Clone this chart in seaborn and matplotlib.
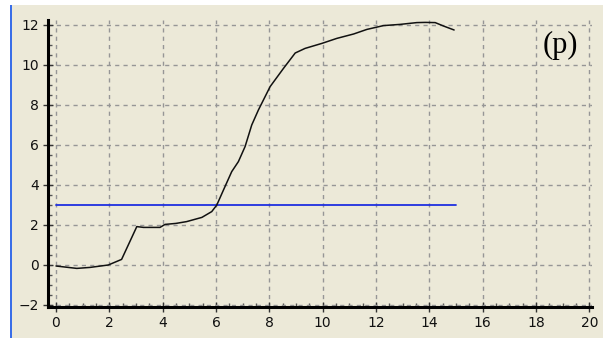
import matplotlib
matplotlib.use("Agg")
import matplotlib.pyplot as plt
import seaborn as sns
import pandas as pd
from matplotlib.patches import Rectangle
from matplotlib.ticker import MultipleLocator

sns.set_style("white")
plt.rcParams['font.family'] = ['DejaVu Sans']

curve_x = [0.0, 0.78, 1.28, 1.96, 2.46, 3.03, 3.28, 3.9, 4.09, 4.5, 4.9, 5.47, 5.84,
           6.03, 6.28, 6.59, 6.84, 7.09, 7.34, 7.59, 8.03, 8.53, 8.97, 9.34, 9.97,
           10.53, 11.16, 11.66, 12.28, 12.9, 13.53, 13.85, 14.22, 14.53, 14.93]
curve_y = [-0.05, -0.17, -0.12, 0.0, 0.28, 1.92, 1.88, 1.88, 2.03, 2.08, 2.17, 2.38, 2.67,
           3.0, 3.75, 4.67, 5.17, 5.92, 7.0, 7.75, 8.92, 9.83, 10.6, 10.83, 11.08,
           11.33, 11.55, 11.78, 11.97, 12.03, 12.12, 12.13, 12.12, 11.95, 11.75]
thresh_x = [0, 15]
thresh_y = [3, 3]
x_ticks = [0, 2, 4, 6, 8, 10, 12, 14, 16, 18, 20]
y_ticks = [-2, 0, 2, 4, 6, 8, 10, 12]
label = "(p)"

bg = "#ECE9D8"
fig = plt.figure(figsize=(6.03, 3.38), dpi=100, facecolor=bg)
# window decoration: white strip top, white left margin with blue edge
fig.patches.append(Rectangle((0, 1 - 5/338), 1, 5/338, transform=fig.transFigure,
                             facecolor="white", edgecolor="none", zorder=0))
fig.patches.append(Rectangle((0, 0), 10/603, 1, transform=fig.transFigure,
                             facecolor="white", edgecolor="none", zorder=0))
fig.patches.append(Rectangle((10/603, 0), 2/603, 1 - 5/338, transform=fig.transFigure,
                             facecolor="#3A6EE8", edgecolor="none", zorder=0))

ax = fig.add_axes([48/603, 31/338, (592-48)/603, (307-20)/338])
ax.set_facecolor(bg)

df_c = pd.DataFrame({"x": curve_x, "y": curve_y})
df_t = pd.DataFrame({"x": thresh_x, "y": thresh_y})
sns.lineplot(data=df_t, x="x", y="y", ax=ax, color="#1F2FE0", linewidth=1.3, sort=False)
sns.lineplot(data=df_c, x="x", y="y", ax=ax, color="#111111", linewidth=1.1, sort=False)

ax.set_xlim(-0.3, 20.1)
ax.set_ylim(-2.1, 12.25)
ax.set_xticks(x_ticks)
ax.set_yticks(y_ticks)
ax.xaxis.set_minor_locator(MultipleLocator(0.5))
ax.yaxis.set_minor_locator(MultipleLocator(0.5))
ax.set_xlabel("")
ax.set_ylabel("")
ax.grid(True, which="major", linestyle=(0, (3, 3)), color="#969696", linewidth=1.0)
for s in ["top", "right"]:
    ax.spines[s].set_visible(False)
for s in ["left", "bottom"]:
    ax.spines[s].set_color("black")
    ax.spines[s].set_linewidth(2.2)
ax.tick_params(which="major", direction="inout", length=7, width=1, color="#333333",
               labelsize=10, labelcolor="#111111", left=True, bottom=True, pad=3)
ax.tick_params(which="minor", direction="in", length=3, width=1, color="#555555",
               left=True, bottom=True)
ax.text(0.974, 0.963, label, transform=ax.transAxes, ha="right", va="top",
        fontsize=22, family="Liberation Serif", color="black")

fig.savefig("out.png", dpi=100, facecolor=bg)
